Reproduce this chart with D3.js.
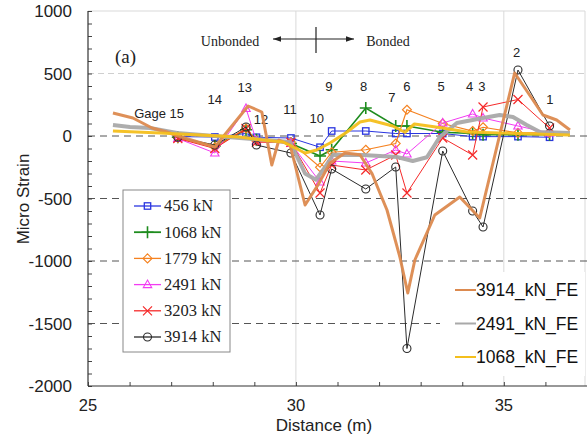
<!DOCTYPE html>
<html><head><meta charset="utf-8">
<script src="https://cdn.jsdelivr.net/npm/d3@7"></script>
<style>body{margin:0;background:#fff} svg{display:block}</style>
</head><body><svg id="c" width="587" height="437"></svg>
<script>
// ---------- data ----------
const gauges    = ["15","14","13","12","11","10","9","8","7","6","5","4","3","2","1"];
const gaugeDist = [27.16, 28.05, 28.8, 29.05, 29.88, 30.58, 30.86, 31.68, 32.4, 32.67, 33.53, 34.25, 34.5, 35.34, 36.1];

const s456  = [-5, -8, 20, -10, -16, -90, 40, 40, 20, 20, 20, -5, -5, -5, -10];
const s1068 = [-10, -80, 50, -30, -60, -160, -110, 224, 80, 80, 30, 20, 10, 10, 10];
const s1779 = [-15, -90, 60, -40, -50, -250, -130, -110, -60, 210, 100, 40, 70, 25, 25];
const s2491 = [-20, -136, 220, -40, -60, -368, -200, -216, -112, -144, 104, 176, 144, 80, 24];
const s3203 = [-20, -100, 60, -50, -50, -456, -232, -272, -152, -456, -16, -152, 232, 292, 64];
const s3914 = [-10, -72, 72, -72, -136, -632, -264, -424, -248, -1700, -120, -600, -728, 528, 80];
const seriesNames = ["456 kN", "1068 kN", "1779 kN", "2491 kN", "3203 kN", "3914 kN"];

const fe3914Dist = [25.6, 26.08, 26.54, 26.9, 27.16, 28.05, 28.85, 29.18, 29.42, 29.59, 29.86, 30.22, 30.53, 30.82, 31.18, 31.54, 31.83, 32.02, 32.19, 32.5, 32.69, 32.86, 33.34, 33.94, 34.42, 35.26, 35.7, 35.94, 36.27, 36.59];
const fe3914     = [184, 144, 64, 32, 0, -88, 240, 192, -232, -32, -72, -552, -392, -216, -136, -150, -300, -456, -592, -968, -1256, -992, -632, -488, -656, 504, 288, 168, 128, 48];
const fe2491Dist = [25.6, 26.01, 26.49, 27.14, 28.65, 29.3, 29.86, 30.22, 30.48, 30.7, 30.89, 31.61, 32.43, 32.81, 33.15, 33.46, 33.87, 34.5, 34.9, 35.22, 35.55, 35.87, 36.59];
const fe2491     = [88, 72, 64, 24, -16, -32, -48, -300, -350, -250, -150, -152, -168, -200, -170, -8, 104, 144, 168, 152, 88, 32, 24];
const fe1068Dist = [25.6, 26.73, 28.65, 29.2, 29.69, 30.22, 30.5, 30.82, 31.23, 31.54, 31.78, 32.33, 32.62, 32.85, 33.53, 34.11, 34.9, 36.59];
const fe1068     = [40, 24, -8, -32, -48, -136, -112, -56, 32, 112, 128, 80, 30, 96, 64, 32, 24, 8];
const feNames    = ["3914_kN_FE", "2491_kN_FE", "1068_kN_FE"];

const yTickValues = [1000, 500, 0, -500, -1000, -1500, -2000];
const xTickValues = [25, 30, 35];
// annotation label positions (data units)
const labelDist = [26.71, 28.05, 28.77, 29.16, 29.86, 30.5, 30.79, 31.63, 32.31, 32.67, 33.49, 34.18, 34.47, 35.31, 36.11];
const labelVal  = [184, 296, 392, 136, 216, 144, 400, 400, 312, 400, 400, 400, 400, 672, 296];

// ---------- chart ----------
const svg = d3.select("#c");
const x = d3.scaleLinear().domain([25, 37]).range([88, 587]);
const y = d3.scaleLinear().domain([-2000, 1000]).range([386, 11]);
const sans = "Arial, 'Liberation Sans', sans-serif";
const serif = "'Times New Roman', 'Liberation Serif', serif";

// frame / grid
svg.append("line").attr("x1", x(25)).attr("x2", 585).attr("y1", y(1000)).attr("y2", y(1000)).attr("stroke", "#d9d9d9");
svg.append("line").attr("x1", 585).attr("x2", 585).attr("y1", y(1000)).attr("y2", y(-2000)).attr("stroke", "#d9d9d9");
[30, 35].forEach(v => svg.append("line").attr("x1", x(v)).attr("x2", x(v)).attr("y1", y(1000)).attr("y2", y(-2000)).attr("stroke", "#d9d9d9"));
svg.append("line").attr("x1", x(25)).attr("x2", 587).attr("y1", y(500)).attr("y2", y(500))
  .attr("stroke", "#cfcfcf").attr("stroke-dasharray", "6,4");
[0, -500, -1000].forEach(v => svg.append("line").attr("x1", x(25)).attr("x2", 587).attr("y1", y(v)).attr("y2", y(v))
  .attr("stroke", "#555").attr("stroke-width", 1).attr("stroke-dasharray", "7,5"));
svg.append("line").attr("x1", x(25)).attr("x2", 440).attr("y1", y(-1500)).attr("y2", y(-1500))
  .attr("stroke", "#555").attr("stroke-dasharray", "7,5");

// axes
const yAxis = d3.axisRight(y).tickValues(d3.range(-2000, 1001, 100)).tickSize(4).tickFormat("");
const gy = svg.append("g").attr("transform", `translate(${x(25)},0)`).call(yAxis);
gy.select(".domain").remove();
gy.selectAll("line").attr("stroke", "#444");
svg.append("line").attr("x1", x(25)).attr("x2", x(25)).attr("y1", y(1000)).attr("y2", y(-2000)).attr("stroke", "#333").attr("stroke-width", 1.2);
const xAxis = d3.axisTop(x).tickValues(d3.range(25, 37, 1)).tickSize(4).tickFormat("");
const gx = svg.append("g").attr("transform", `translate(0,${y(-2000)})`).call(xAxis);
gx.select(".domain").remove();
gx.selectAll("line").attr("stroke", "#444");
svg.append("line").attr("x1", x(25)).attr("x2", 587).attr("y1", y(-2000)).attr("y2", y(-2000)).attr("stroke", "#333").attr("stroke-width", 1.2);

svg.append("g").selectAll("text").data(yTickValues).join("text")
  .attr("x", 72).attr("y", d => y(d)).attr("dy", "0.36em").attr("text-anchor", "end")
  .attr("font-family", sans).attr("font-size", 17).attr("fill", "#222").text(d => d);
svg.append("g").selectAll("text").data(xTickValues).join("text")
  .attr("x", d => x(d)).attr("y", 411).attr("text-anchor", "middle")
  .attr("font-family", sans).attr("font-size", 16.5).attr("fill", "#222").text(d => d);
svg.append("text").attr("x", 324).attr("y", 431).attr("text-anchor", "middle")
  .attr("font-family", sans).attr("font-size", 17).attr("fill", "#222").text("Distance (m)");
svg.append("text").attr("transform", "translate(29,199) rotate(-90)").attr("text-anchor", "middle")
  .attr("font-family", sans).attr("font-size", 17).attr("fill", "#222").text("Micro Strain");

// annotations
svg.append("text").attr("x", 115).attr("y", 63).attr("font-family", serif).attr("font-size", 19).attr("fill", "#222").text("(a)");
svg.append("text").attr("x", 230).attr("y", 46).attr("text-anchor", "middle").attr("font-family", serif).attr("font-size", 14).attr("fill", "#222").text("Unbonded");
svg.append("text").attr("x", 388).attr("y", 46).attr("text-anchor", "middle").attr("font-family", serif).attr("font-size", 14).attr("fill", "#222").text("Bonded");
svg.append("defs").append("marker").attr("id", "ah").attr("viewBox", "0 0 10 10").attr("refX", 10).attr("refY", 5)
  .attr("markerWidth", 7).attr("markerHeight", 7).attr("orient", "auto-start-reverse")
  .append("path").attr("d", "M0,1.5L10,5L0,8.5Z").attr("fill", "#222");
svg.append("line").attr("x1", 273).attr("x2", 354).attr("y1", 39).attr("y2", 39).attr("stroke", "#222").attr("stroke-width", 1.2)
  .attr("marker-start", "url(#ah)").attr("marker-end", "url(#ah)");
svg.append("line").attr("x1", 316).attr("x2", 316).attr("y1", 27).attr("y2", 53).attr("stroke", "#222").attr("stroke-width", 1.2);

svg.append("g").selectAll("text").data(gauges).join("text")
  .attr("x", (d, i) => x(labelDist[i])).attr("y", (d, i) => y(labelVal[i])).attr("dy", "0.35em")
  .attr("text-anchor", "middle").attr("font-family", sans).attr("font-size", 13).attr("fill", "#222")
  .text((d, i) => i === 0 ? "Gage 15" : d);

// experimental series
const expData = [s456, s1068, s1779, s2491, s3203, s3914];
const expColor = ["#2a35e0", "#1e8c1e", "#f58220", "#f23cf2", "#f52a2a", "#2b2b2b"];
const expWidth = [1, 1.6, 1.2, 1, 1, 1];
const line = d3.line().x(d => x(d[0])).y(d => y(d[1]));

function marker(g, k, cx, cy, col) {
  if (k === 0) g.append("rect").attr("x", cx - 3.2).attr("y", cy - 3.2).attr("width", 6.4).attr("height", 6.4).attr("fill", "none").attr("stroke", col).attr("stroke-width", 1.3);
  else if (k === 1) g.append("path").attr("d", `M${cx-6},${cy}H${cx+6}M${cx},${cy-6}V${cy+6}`).attr("stroke", col).attr("stroke-width", 1.6);
  else if (k === 2) g.append("path").attr("d", `M${cx},${cy-4.5}L${cx+4.5},${cy}L${cx},${cy+4.5}L${cx-4.5},${cy}Z`).attr("fill", "none").attr("stroke", col).attr("stroke-width", 1.1);
  else if (k === 3) g.append("path").attr("d", `M${cx},${cy-4.5}L${cx+4.2},${cy+3}L${cx-4.2},${cy+3}Z`).attr("fill", "none").attr("stroke", col).attr("stroke-width", 1.1);
  else if (k === 4) g.append("path").attr("d", `M${cx-4.5},${cy-4.5}L${cx+4.5},${cy+4.5}M${cx+4.5},${cy-4.5}L${cx-4.5},${cy+4.5}`).attr("stroke", col).attr("stroke-width", 1.2);
  else g.append("circle").attr("cx", cx).attr("cy", cy).attr("r", 4).attr("fill", "none").attr("stroke", col).attr("stroke-width", 1.1);
}

const gExp = svg.append("g");
expData.forEach((s, k) => {
  const pts = s.map((v, i) => [gaugeDist[i], v]);
  gExp.append("path").attr("d", line(pts)).attr("fill", "none").attr("stroke", expColor[k]).attr("stroke-width", expWidth[k]);
  pts.forEach(p => marker(gExp, k, x(p[0]), y(p[1]), expColor[k]));
});

// FE series
const feData = [[fe3914Dist, fe3914], [fe2491Dist, fe2491], [fe1068Dist, fe1068]];
const feColor = ["#dc8a4f", "#a9a9a9", "#f4bf1c"];
const feWidth = [3, 4, 3];
[1, 0, 2].forEach(k => {
  const pts = feData[k][0].map((d, i) => [d, feData[k][1][i]]);
  svg.append("path").attr("d", line(pts)).attr("fill", "none").attr("stroke", feColor[k])
    .attr("stroke-width", feWidth[k]).attr("stroke-linejoin", "round").attr("opacity", 0.95);
});

// legend 1
const lg = svg.append("g");
lg.append("rect").attr("x", 123).attr("y", 190).attr("width", 107).attr("height", 162).attr("fill", "#fff").attr("stroke", "#888");
seriesNames.forEach((n, k) => {
  const cy = 206 + k * 26.2;
  lg.append("line").attr("x1", 134).attr("x2", 161).attr("y1", cy).attr("y2", cy).attr("stroke", expColor[k]).attr("stroke-width", k === 1 ? 1.8 : 1.3);
  marker(lg, k, 147.5, cy, expColor[k]);
  lg.append("text").attr("x", 164).attr("y", cy).attr("dy", "0.33em").attr("font-family", serif).attr("font-size", 16.5).attr("fill", "#222").text(n);
});

// legend 2
const lg2 = svg.append("g");
lg2.append("rect").attr("x", 440).attr("y", 272).attr("width", 145).attr("height", 104).attr("fill", "#fff");
feNames.forEach((n, k) => {
  const cy = 290 + k * 33.5;
  lg2.append("line").attr("x1", 455).attr("x2", 476).attr("y1", cy).attr("y2", cy).attr("stroke", feColor[k]).attr("stroke-width", 2);
  lg2.append("text").attr("x", 476).attr("y", cy).attr("dy", "0.36em").attr("font-family", sans).attr("font-size", 17.5).attr("fill", "#111").text(n);
});
</script></body></html>
